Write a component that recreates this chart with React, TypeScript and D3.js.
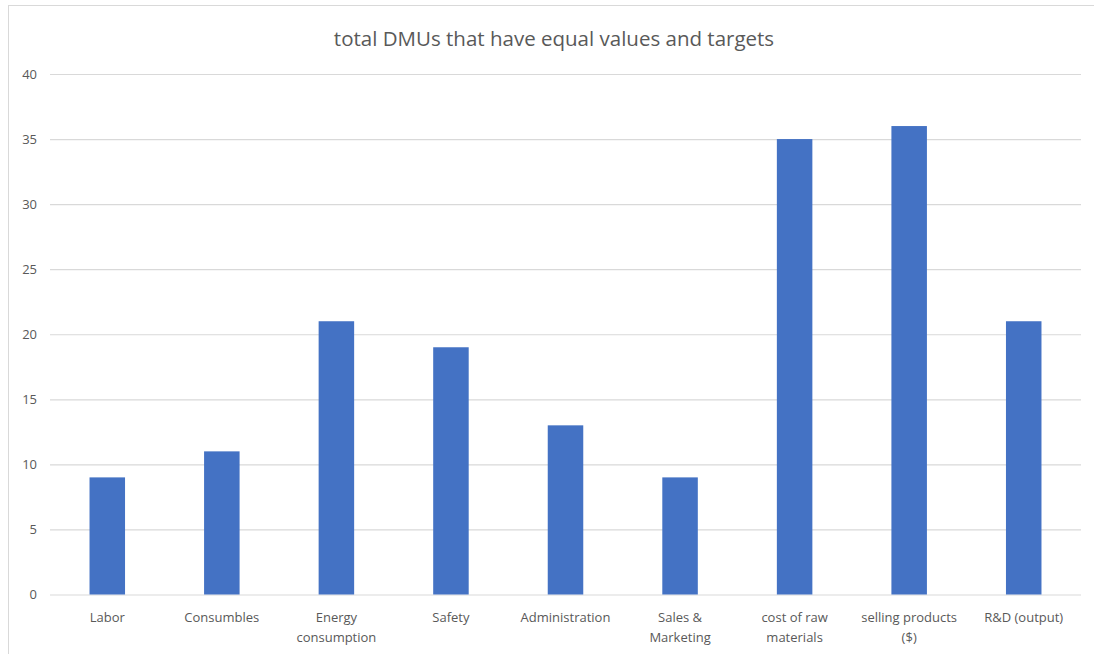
import React, { useRef, useEffect } from "react";
import * as d3 from "d3";

const categories = [
  "Labor",
  "Consumbles",
  "Energy\nconsumption",
  "Safety",
  "Administration",
  "Sales &\nMarketing",
  "cost of raw\nmaterials",
  "selling products\n($)",
  "R&D (output)",
];
const values = [9, 11, 21, 19, 13, 9, 35, 36, 21];
const yTicks = [0, 5, 10, 15, 20, 25, 30, 35, 40];
const title = "total DMUs that have equal values and targets";

function App() {
  const svgRef = useRef<SVGSVGElement>(null);
  const width = 1094;
  const height = 654;
  const marginTop = 74; // y of the 40 gridline
  const marginBottom = 59.5; // 0 baseline at 594.5
  const marginLeft = 50;
  const marginRight = 13;
  const font = "'Open Sans', 'Liberation Sans', sans-serif";

  useEffect(() => {
    const svg = d3.select(svgRef.current);
    svg.selectAll("*").remove();

    svg.attr("width", width).attr("height", height).attr("viewBox", [0, 0, width, height]);

    svg.append("rect").attr("width", width).attr("height", height).attr("fill", "white");

    // chart frame (runs off right and bottom edges)
    svg.append("rect")
      .attr("x", 8.5)
      .attr("y", 5.5)
      .attr("width", width + 20)
      .attr("height", height + 20)
      .attr("fill", "none")
      .attr("stroke", "#d9d9d9")
      .attr("stroke-width", 1);

    const x = d3.scaleBand<string>()
      .domain(categories)
      .range([marginLeft, width - marginRight])
      .paddingInner(0.69)
      .paddingOuter(0.345);

    const y = d3.scaleLinear().domain([0, 40]).range([height - marginBottom, marginTop]);

    // gridlines + y labels
    const yAxis = d3.axisLeft(y).tickValues(yTicks).tickSize(-(width - marginRight - marginLeft)).tickPadding(13);
    svg.append("g")
      .attr("transform", `translate(${marginLeft},0)`)
      .call(yAxis)
      .call(g => g.select(".domain").remove())
      .call(g => g.selectAll(".tick line").attr("stroke", "#d9d9d9").attr("stroke-width", 1.2))
      .call(g => g.selectAll(".tick text")
        .attr("fill", "#595959")
        .attr("font-size", 13)
        .attr("font-family", font));

    // bars
    svg.append("g")
      .selectAll("rect")
      .data(values)
      .join("rect")
      .attr("x", (d, i) => x(categories[i])!)
      .attr("width", x.bandwidth())
      .attr("y", d => y(d))
      .attr("height", d => y(0) - y(d))
      .attr("fill", "#4472c4");

    // x labels
    const labels = svg.append("g")
      .attr("fill", "#595959")
      .attr("font-size", 13)
      .attr("font-family", font)
      .attr("text-anchor", "middle");
    categories.forEach(c => {
      const t = labels.append("text")
        .attr("x", x(c)! + x.bandwidth() / 2)
        .attr("y", y(0) + 27);
      c.split("\n").forEach((line, j) => {
        t.append("tspan")
          .attr("x", x(c)! + x.bandwidth() / 2)
          .attr("dy", j === 0 ? 0 : 20)
          .text(line);
      });
    });

    // title
    svg.append("text")
      .attr("x", 554)
      .attr("y", 46)
      .attr("text-anchor", "middle")
      .attr("fill", "#595959")
      .attr("font-size", 20.5)
      .attr("font-family", font)
      .text(title);
  }, []);

  return (
    <div style={{ position: "absolute", left: 0, top: 0 }}>
      <svg ref={svgRef}></svg>
    </div>
  );
}

export default App;
